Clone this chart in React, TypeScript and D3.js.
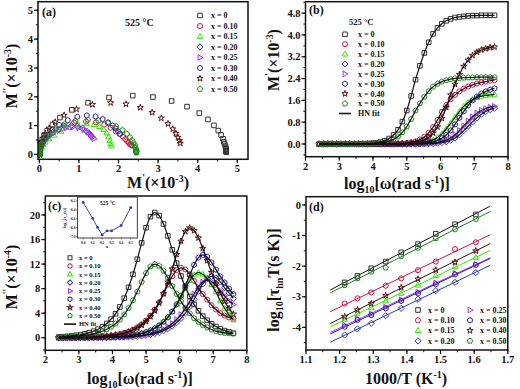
import React from 'react';
import * as d3 from 'd3';

// ---------- DATA ----------
const seriesLabels = ['x = 0', 'x = 0.10', 'x = 0.15', 'x = 0.20', 'x = 0.25', 'x = 0.30', 'x = 0.40', 'x = 0.50'];
const seriesColors = ['#333333', '#cc1148', '#33e600', '#2a3aa8', '#a033e8', '#2c1c9c', '#5a1414', '#1f8a1f'];
const seriesShapes = ['square', 'circle', 'triangle', 'diamond', 'triright', 'hexagon', 'star', 'pentagon'];

// log10(omega) grid of the measurement
const logW = [2.40, 2.53, 2.66, 2.79, 2.92, 3.05, 3.18, 3.31, 3.44, 3.57, 3.70, 3.83, 3.96, 4.09, 4.22, 4.35, 4.48, 4.61, 4.74, 4.87, 5.00, 5.13, 5.26, 5.39, 5.52, 5.65, 5.78, 5.91, 6.04, 6.17, 6.30, 6.43, 6.56, 6.69, 6.82, 6.95, 7.08, 7.21, 7.34, 7.47, 7.60];

// M' (x10^-3)
const mp_x0 = [0, 0, 0, 0, 0, 0, 0, 0, 0, 0.005, 0.009, 0.016, 0.026, 0.043, 0.073, 0.12, 0.20, 0.33, 0.52, 0.82, 1.23, 1.76, 2.36, 2.87, 3.34, 3.73, 4.04, 4.26, 4.41, 4.52, 4.59, 4.64, 4.66, 4.68, 4.70, 4.71, 4.71, 4.72, 4.72, 4.72, 4.72];
const mp_x10 = [0, 0, 0, 0, 0, 0, 0, 0, 0, 0, 0, 0, 0, 0, 0, 0, 0.005, 0.008, 0.013, 0.022, 0.037, 0.060, 0.100, 0.163, 0.262, 0.411, 0.616, 0.880, 1.18, 1.43, 1.64, 1.80, 1.93, 2.03, 2.11, 2.17, 2.22, 2.26, 2.29, 2.32, 2.34];
const mp_x15 = [0, 0, 0, 0, 0, 0, 0, 0, 0, 0, 0, 0, 0, 0, 0, 0, 0, 0, 0, 0, 0.008, 0.013, 0.02, 0.035, 0.058, 0.095, 0.15, 0.24, 0.37, 0.55, 0.76, 0.98, 1.19, 1.38, 1.52, 1.63, 1.70, 1.75, 1.78, 1.80, 1.82];
const mp_x20 = [0, 0, 0, 0, 0, 0, 0, 0, 0, 0, 0, 0, 0, 0, 0, 0, 0, 0, 0, 0, 0, 0, 0, 0.004, 0.007, 0.012, 0.02, 0.034, 0.055, 0.088, 0.14, 0.22, 0.34, 0.49, 0.65, 0.81, 0.96, 1.09, 1.19, 1.26, 1.31];
const mp_x25 = [0, 0, 0, 0, 0, 0, 0, 0, 0, 0, 0, 0, 0, 0, 0, 0, 0, 0, 0, 0, 0, 0, 0.004, 0.007, 0.012, 0.02, 0.034, 0.056, 0.09, 0.14, 0.22, 0.34, 0.50, 0.67, 0.84, 1.00, 1.13, 1.23, 1.30, 1.35, 1.38];
const mp_x30 = [0, 0, 0, 0, 0, 0, 0, 0, 0, 0, 0, 0, 0, 0, 0, 0, 0, 0, 0, 0, 0, 0.006, 0.01, 0.017, 0.03, 0.05, 0.08, 0.13, 0.21, 0.33, 0.50, 0.72, 0.96, 1.20, 1.42, 1.60, 1.74, 1.85, 1.93, 1.99, 2.04];
const mp_x40 = [0, 0, 0, 0, 0, 0, 0, 0, 0, 0, 0, 0, 0, 0, 0, 0, 0, 0, 0.007, 0.012, 0.020, 0.033, 0.056, 0.092, 0.153, 0.248, 0.40, 0.626, 0.94, 1.34, 1.80, 2.19, 2.55, 2.85, 3.08, 3.25, 3.37, 3.45, 3.50, 3.54, 3.56];
const mp_x50 = [0, 0, 0, 0, 0, 0, 0, 0, 0, 0.003, 0.005, 0.008, 0.013, 0.023, 0.038, 0.062, 0.104, 0.169, 0.272, 0.426, 0.639, 0.914, 1.225, 1.49, 1.73, 1.94, 2.10, 2.21, 2.29, 2.34, 2.38, 2.41, 2.42, 2.43, 2.44, 2.44, 2.45, 2.45, 2.45, 2.45, 2.45];

// M'' (x10^-4)
const mpp_x0 = [0.13, 0.17, 0.22, 0.29, 0.39, 0.49, 0.63, 0.82, 1.06, 1.39, 1.80, 2.33, 3.02, 3.90, 5.02, 6.45, 8.22, 10.34, 12.79, 15.46, 17.93, 19.73, 20.4, 19.91, 18.54, 16.59, 14.34, 12.14, 10.06, 8.26, 6.73, 5.43, 4.39, 3.53, 2.84, 2.26, 1.82, 1.45, 1.16, 0.94, 0.75];
const mpp_x10 = [0.02, 0.02, 0.03, 0.03, 0.05, 0.06, 0.08, 0.10, 0.13, 0.16, 0.22, 0.27, 0.35, 0.46, 0.59, 0.78, 1.00, 1.30, 1.69, 2.18, 2.80, 3.60, 4.59, 5.78, 7.15, 8.64, 10.02, 11.02, 11.4, 11.13, 10.36, 9.27, 8.01, 7.10, 6.20, 5.30, 4.60, 4.00, 3.60, 3.30, 3.10];
const mpp_x15 = [0.01, 0.01, 0.01, 0.01, 0.01, 0.02, 0.02, 0.03, 0.04, 0.05, 0.07, 0.09, 0.12, 0.15, 0.20, 0.25, 0.33, 0.42, 0.55, 0.72, 0.93, 1.21, 1.57, 2.02, 2.61, 3.35, 4.27, 5.37, 6.65, 8.03, 9.32, 10.25, 10.6, 10.35, 9.64, 8.62, 7.45, 6.0, 4.8, 3.7, 2.9];
const mpp_x20 = [0.01, 0.01, 0.01, 0.01, 0.01, 0.01, 0.01, 0.01, 0.02, 0.02, 0.03, 0.04, 0.05, 0.07, 0.09, 0.11, 0.14, 0.19, 0.24, 0.31, 0.40, 0.52, 0.68, 0.88, 1.14, 1.48, 1.91, 2.46, 3.16, 4.03, 5.07, 6.27, 7.58, 8.79, 9.67, 10.0, 9.76, 9.09, 8.13, 7.3, 6.4];
const mpp_x25 = [0.01, 0.01, 0.01, 0.01, 0.01, 0.01, 0.01, 0.02, 0.02, 0.03, 0.04, 0.05, 0.06, 0.08, 0.10, 0.13, 0.18, 0.23, 0.29, 0.38, 0.49, 0.64, 0.83, 1.07, 1.39, 1.80, 2.31, 2.97, 3.79, 4.77, 5.89, 7.13, 8.26, 9.09, 9.4, 9.17, 8.54, 7.64, 6.80, 6.0, 5.4];
const mpp_x30 = [0.01, 0.01, 0.01, 0.01, 0.02, 0.02, 0.02, 0.03, 0.04, 0.05, 0.07, 0.09, 0.11, 0.15, 0.19, 0.26, 0.32, 0.42, 0.54, 0.70, 0.92, 1.19, 1.54, 2.00, 2.58, 3.32, 4.27, 5.44, 6.84, 8.46, 10.23, 11.87, 13.05, 13.5, 13.18, 12.27, 11.1, 10.0, 9.0, 8.0, 7.1];
const mpp_x40 = [0.02, 0.02, 0.03, 0.03, 0.04, 0.05, 0.07, 0.09, 0.12, 0.15, 0.20, 0.25, 0.34, 0.43, 0.55, 0.72, 0.93, 1.22, 1.58, 2.04, 2.65, 3.42, 4.40, 5.66, 7.21, 9.08, 11.22, 13.57, 15.73, 17.31, 17.9, 17.47, 16.27, 14.55, 12.58, 10.65, 8.82, 7.25, 5.91, 4.76, 3.85];
const mpp_x50 = [0.08, 0.10, 0.13, 0.17, 0.23, 0.29, 0.37, 0.48, 0.62, 0.82, 1.06, 1.37, 1.78, 2.29, 2.95, 3.79, 4.84, 6.08, 7.52, 9.10, 10.55, 11.60, 12.0, 11.71, 10.91, 9.76, 8.44, 7.14, 5.92, 4.86, 3.96, 3.19, 2.58, 2.08, 1.67, 1.33, 1.07, 0.90, 0.78, 0.70, 0.65];

// Arrhenius data: 1000/T and log10(tau_hn T)
const invT = [1.215, 1.253, 1.294, 1.337, 1.383, 1.433, 1.486, 1.543, 1.605];
const lt_x0 = [-2.53, -2.32, -2.07, -1.85, -1.55, -1.28, -0.94, -0.63, -0.31];
const lt_x10 = [-3.22, -3.05, -2.86, -2.64, -2.40, -2.13, -1.85, -1.44, -1.22];
const lt_x15 = [-3.74, -3.54, -3.36, -3.14, -2.89, -2.62, -2.31, -2.02, -1.72];
const lt_x20 = [-4.25, -4.05, -3.87, -3.62, -3.38, -3.08, -2.80, -2.53, -2.21];
const lt_x25 = [-3.93, -3.72, -3.56, -3.34, -3.10, -2.85, -2.55, -2.24, -1.94];
const lt_x30 = [-3.98, -3.76, -3.60, -3.38, -3.14, -2.89, -2.59, -2.27, -1.96];
const lt_x40 = [-3.65, -3.43, -3.22, -2.96, -2.70, -2.42, -2.13, -1.87, -1.50];
const lt_x50 = [-2.62, -2.40, -2.18, -2.05, -1.67, -1.40, -1.09, -0.80, -0.46];
const fitRange = [1.172, 1.648];

// inset: log10(tau_hn) vs x at 525 C
const insetX = [0, 0.1, 0.15, 0.2, 0.25, 0.3, 0.4, 0.5];
const insetY = [-6.23, -6.59, -6.79, -6.96, -6.87, -6.87, -6.75, -6.35];

// ticks
const ticksA = [0, 1, 2, 3, 4, 5];
const ticksBx = [2, 3, 4, 5, 6, 7, 8];
const ticksBy = [0, 0.8, 1.6, 2.4, 3.2, 4.0, 4.8];
const ticksCy = [0, 4, 8, 12, 16, 20];
const ticksDx = [1.1, 1.2, 1.3, 1.4, 1.5, 1.6, 1.7];
const ticksDy = [0, -1, -2, -3, -4];
const insetTicksX = [0, 0.1, 0.2, 0.3, 0.4, 0.5];
const insetTicksY = [-6.2, -6.4, -6.6, -6.8, -7.0];

const MP = [mp_x0, mp_x10, mp_x15, mp_x20, mp_x25, mp_x30, mp_x40, mp_x50];
const MPP = [mpp_x0, mpp_x10, mpp_x15, mpp_x20, mpp_x25, mpp_x30, mpp_x40, mpp_x50];
const LT = [lt_x0, lt_x10, lt_x15, lt_x20, lt_x25, lt_x30, lt_x40, lt_x50];
const fitColors = ['#111111', '#cc1148', '#33e600', '#2a3aa8', '#a033e8', '#2c1c9c', '#2a1010', '#1f7a1f'];

// ---------- HELPERS ----------
const FONT = "'Liberation Serif', 'Times New Roman', serif";

function poly(n: number, r: number): string {
  const pts: string[] = [];
  for (let k = 0; k < n; k++) {
    const a = -Math.PI / 2 + (k * 2 * Math.PI) / n;
    pts.push(`${(r * Math.cos(a)).toFixed(2)},${(r * Math.sin(a)).toFixed(2)}`);
  }
  return 'M' + pts.join('L') + 'Z';
}

const SHAPES: Record<string, string> = {
  square: 'M-2.3,-2.3H2.3V2.3H-2.3Z',
  circle: d3.symbol(d3.symbolCircle, 20)() as string,
  triangle: 'M0,-3L2.8,1.9L-2.8,1.9Z',
  diamond: 'M0,-3.1L3.1,0L0,3.1L-3.1,0Z',
  triright: 'M3,0L-1.9,-2.8L-1.9,2.8Z',
  hexagon: poly(6, 2.7),
  star: d3.symbol(d3.symbolStar, 12)() as string,
  pentagon: poly(5, 2.8),
};

function Mark({ shape, x, y, color, s = 1 }: { shape: string; x: number; y: number; color: string; s?: number }) {
  return (
    <path
      d={SHAPES[shape]}
      transform={`translate(${x.toFixed(2)},${y.toFixed(2)}) scale(${s})`}
      fill="none"
      stroke={color}
      strokeWidth={1 / s}
    />
  );
}

type Seg = { t: string; sh?: number };
function Rich({ segs, size, x, y, rotate, anchor = 'middle' }: { segs: Seg[]; size: number; x: number; y: number; rotate?: boolean; anchor?: string }) {
  let cur = 0;
  const spans = segs.map((s, i) => {
    const sh = s.sh || 0;
    const dy = sh - cur;
    cur = sh;
    const fs = sh !== 0 ? size * 0.62 : size;
    return (
      <tspan key={i} dy={dy} fontSize={fs}>
        {s.t}
      </tspan>
    );
  });
  return (
    <text
      transform={rotate ? `translate(${x},${y}) rotate(-90)` : `translate(${x},${y})`}
      textAnchor={anchor as any}
      fontFamily={FONT}
      fontWeight="bold"
      fontSize={size}
      fill="#111"
    >
      {spans}
    </text>
  );
}

function Frame({ x0, x1, y0, y1 }: { x0: number; x1: number; y0: number; y1: number }) {
  return <rect x={x0} y={y0} width={x1 - x0} height={y1 - y0} fill="none" stroke="#111" strokeWidth={1.5} />;
}

function XTicks({ sx, major, minorStep, y, fmt, size = 10.5 }: any) {
  const [d0, d1] = sx.domain();
  const minors: number[] = [];
  if (minorStep) {
    const start = Math.ceil(d0 / minorStep - 1e-6);
    const end = Math.floor(d1 / minorStep + 1e-6);
    for (let k = start; k <= end; k++) minors.push(k * minorStep);
  }
  return (
    <g>
      {minors.map((v, i) => (
        <line key={'m' + i} x1={sx(v)} x2={sx(v)} y1={y} y2={y + 2.2} stroke="#111" strokeWidth={1} />
      ))}
      {major.map((v: number, i: number) => (
        <g key={i}>
          <line x1={sx(v)} x2={sx(v)} y1={y} y2={y + 4} stroke="#111" strokeWidth={1.2} />
          <text x={sx(v)} y={y + 13} textAnchor="middle" fontFamily={FONT} fontWeight="bold" fontSize={size} fill="#111">
            {fmt(v)}
          </text>
        </g>
      ))}
    </g>
  );
}

function YTicks({ sy, major, minorStep, x, fmt, size = 10.5 }: any) {
  const [d0, d1] = sy.domain();
  const minors: number[] = [];
  if (minorStep) {
    const start = Math.ceil(d0 / minorStep - 1e-6);
    const end = Math.floor(d1 / minorStep + 1e-6);
    for (let k = start; k <= end; k++) minors.push(k * minorStep);
  }
  return (
    <g>
      {minors.map((v, i) => (
        <line key={'m' + i} x1={x} x2={x - 2.2} y1={sy(v)} y2={sy(v)} stroke="#111" strokeWidth={1} />
      ))}
      {major.map((v: number, i: number) => (
        <g key={i}>
          <line x1={x} x2={x - 4} y1={sy(v)} y2={sy(v)} stroke="#111" strokeWidth={1.2} />
          <text x={x - 5} y={sy(v) + 3.6} textAnchor="end" fontFamily={FONT} fontWeight="bold" fontSize={size} fill="#111">
            {fmt(v)}
          </text>
        </g>
      ))}
    </g>
  );
}

function Legend({ x, y, dy, s = 1, size = 8, gap = 12, items, fit }: any) {
  return (
    <g>
      {items.map((k: number, i: number) => (
        <g key={k}>
          <Mark shape={seriesShapes[k]} x={x} y={y + i * dy} color={seriesColors[k]} s={s} />
          <text x={x + gap} y={y + i * dy + size * 0.35} fontFamily={FONT} fontWeight="bold" fontSize={size} fill="#111">
            {seriesLabels[k]}
          </text>
        </g>
      ))}
      {fit && (
        <g>
          <line x1={x - 6} x2={x + 6} y1={y + items.length * dy} y2={y + items.length * dy} stroke="#111" strokeWidth={1.6} />
          <text x={x + gap} y={y + items.length * dy + size * 0.35} fontFamily={FONT} fontWeight="bold" fontSize={size} fill="#111">
            HN fit
          </text>
        </g>
      )}
    </g>
  );
}

const order = [0, 1, 2, 3, 4, 5, 6, 7];

// ---------- APP ----------
export default function App() {
  // Panel (a)
  const ax = d3.scaleLinear().domain([-0.033, 5.27]).range([38, 248]);
  const ay = d3.scaleLinear().domain([-0.17, 5.3]).range([159.3, 1.7]);
  // Panel (b)
  const bx = d3.scaleLinear().domain([2, 8]).range([305.5, 508]);
  const by = d3.scaleLinear().domain([-0.466, 5.22]).range([156.7, 1.7]);
  // Panel (c)
  const cx = d3.scaleLinear().domain([2, 8]).range([45.3, 246.8]);
  const cy = d3.scaleLinear().domain([-2.05, 23.1]).range([350.3, 196]);
  // Panel (d)
  const dx = d3.scaleLinear().domain([1.1, 1.7]).range([306, 507.8]);
  const dy = d3.scaleLinear().domain([-4.74, 0.27]).range([350, 196.7]);
  // Inset
  const ix = d3.scaleLinear().domain([-0.06, 0.57]).range([77.5, 137.3]);
  const iy = d3.scaleLinear().domain([-7.03, -6.11]).range([238, 197]);

  const lineB = (k: number) =>
    d3.line<number>().x((_, i) => bx(logW[i])).y((v) => by(v)).curve(d3.curveMonotoneX)(MP[k]) as string;
  const lineC = (k: number) =>
    d3.line<number>().x((_, i) => cx(logW[i])).y((v) => cy(v)).curve(d3.curveMonotoneX)(MPP[k]) as string;

  const fits = LT.map((ys) => {
    const n = invT.length;
    const mx = d3.mean(invT) as number;
    const my = d3.mean(ys) as number;
    let sxy = 0, sxx = 0;
    for (let i = 0; i < n; i++) {
      sxy += (invT[i] - mx) * (ys[i] - my);
      sxx += (invT[i] - mx) * (invT[i] - mx);
    }
    const b = sxy / sxx;
    const a = my - b * mx;
    return fitRange.map((x) => [x, a + b * x]);
  });

  const insetLine = d3.line<number>().x((_, i) => ix(insetX[i])).y((v) => iy(v))(insetY) as string;

  return (
    <svg width={520} height={389} style={{ position: 'absolute', left: 0, top: 0, background: '#fff' }}>
      <defs>
        <clipPath id="ca"><rect x={38} y={1.7} width={210} height={157.6} /></clipPath>
        <clipPath id="cb"><rect x={305.5} y={1.7} width={202.5} height={155} /></clipPath>
        <clipPath id="cc"><rect x={45.3} y={196} width={201.5} height={154.3} /></clipPath>
        <clipPath id="cd"><rect x={306} y={196.7} width={201.8} height={153.3} /></clipPath>
      </defs>
      <rect x={0} y={0} width={520} height={389} fill="#fff" />

      {/* ---------------- Panel (a) ---------------- */}
      <g clipPath="url(#ca)">
        {order.map((k) =>
          MP[k].map((v, i) => (
            <Mark key={k + '-' + i} shape={seriesShapes[k]} x={ax(v)} y={ay(MPP[k][i] / 10)} color={seriesColors[k]} />
          ))
        )}
      </g>
      <Frame x0={38} x1={248} y0={1.7} y1={159.3} />
      <XTicks sx={ax} major={ticksA} minorStep={0.5} y={159.3} fmt={(v: number) => String(v)} />
      <YTicks sy={ay} major={ticksA} minorStep={0.5} x={38} fmt={(v: number) => String(v)} />
      <text x={42} y={16} fontFamily={FONT} fontWeight="bold" fontSize={12} fill="#111">(a)</text>
      <text x={125} y={26} fontFamily={FONT} fontWeight="bold" fontSize={10} fill="#111">525 °C</text>
      <Legend x={200} y={15.5} dy={10.5} size={8} gap={11} items={order} />
      <Rich x={158} y={188} size={16} segs={[{ t: 'M' }, { t: "'", sh: -7 }, { t: '(×10' }, { t: '-3', sh: -6 }, { t: ')' }]} />
      <Rich x={17} y={76} rotate size={16} segs={[{ t: 'M' }, { t: "''", sh: -7 }, { t: '(×10' }, { t: '-3', sh: -6 }, { t: ')' }]} />

      {/* ---------------- Panel (b) ---------------- */}
      <g clipPath="url(#cb)">
        {order.map((k) =>
          MP[k].map((v, i) => (
            <Mark key={k + '-' + i} shape={seriesShapes[k]} x={bx(logW[i])} y={by(v)} color={seriesColors[k]} />
          ))
        )}
        {order.map((k) => (
          <path key={'l' + k} d={lineB(k)} fill="none" stroke="#111" strokeWidth={1.2} />
        ))}
      </g>
      <Frame x0={305.5} x1={508} y0={1.7} y1={156.7} />
      <XTicks sx={bx} major={ticksBx} minorStep={0.5} y={156.7} fmt={(v: number) => String(v)} />
      <YTicks sy={by} major={ticksBy} minorStep={0.4} x={305.5} fmt={(v: number) => v.toFixed(1)} />
      <text x={309} y={14} fontFamily={FONT} fontWeight="bold" fontSize={12} fill="#111">(b)</text>
      <text x={349} y={25} fontFamily={FONT} fontWeight="bold" fontSize={8.5} fill="#111">525 °C</text>
      <Legend x={345} y={34.3} dy={9.9} size={8} gap={13} items={order} fit />
      <Rich x={397} y={189} size={16} segs={[{ t: 'log' }, { t: '10', sh: 4 }, { t: '[ω(rad s' }, { t: '-1', sh: -6 }, { t: ')]' }]} />
      <Rich x={279} y={60} rotate size={16} segs={[{ t: 'M' }, { t: "'", sh: -7 }, { t: '(×10' }, { t: '-3', sh: -6 }, { t: ')' }]} />

      {/* ---------------- Panel (c) ---------------- */}
      <g clipPath="url(#cc)">
        {order.map((k) =>
          MPP[k].map((v, i) => (
            <Mark key={k + '-' + i} shape={seriesShapes[k]} x={cx(logW[i])} y={cy(v)} color={seriesColors[k]} />
          ))
        )}
        {order.map((k) => (
          <path key={'l' + k} d={lineC(k)} fill="none" stroke="#111" strokeWidth={1.2} />
        ))}
      </g>
      <Frame x0={45.3} x1={246.8} y0={196} y1={350.3} />
      <XTicks sx={cx} major={ticksBx} minorStep={0.5} y={350.3} fmt={(v: number) => String(v)} />
      <YTicks sy={cy} major={ticksCy} minorStep={2} x={45.3} fmt={(v: number) => String(v)} />
      <text x={48} y={210} fontFamily={FONT} fontWeight="bold" fontSize={12} fill="#111">(c)</text>
      <Legend x={70} y={257.7} dy={8.3} s={0.85} size={6.5} gap={9} items={order} fit />
      <Rich x={140} y={384} size={16} segs={[{ t: 'log' }, { t: '10', sh: 4 }, { t: '[ω(rad s' }, { t: '-1', sh: -6 }, { t: ')]' }]} />
      <Rich x={17} y={277} rotate size={16} segs={[{ t: 'M' }, { t: "''", sh: -7 }, { t: '(×10' }, { t: '-4', sh: -6 }, { t: ')' }]} />

      {/* inset */}
      <rect x={77.5} y={197} width={59.8} height={41} fill="#fff" stroke="#111" strokeWidth={0.8} />
      <path d={insetLine} fill="none" stroke="#2a3aa8" strokeWidth={0.9} />
      {insetY.map((v, i) => (
        <circle key={i} cx={ix(insetX[i])} cy={iy(v)} r={1.4} fill="#2a3aa8" />
      ))}
      {insetTicksX.map((v) => (
        <g key={'ix' + v}>
          <line x1={ix(v)} x2={ix(v)} y1={238} y2={239.5} stroke="#111" strokeWidth={0.5} />
          <text x={ix(v)} y={243.5} textAnchor="middle" fontFamily={FONT} fontWeight="bold" fontSize={3.6} fill="#111">{v.toFixed(1)}</text>
        </g>
      ))}
      {insetTicksY.map((v) => (
        <g key={'iy' + v}>
          <line x1={77.5} x2={76} y1={iy(v)} y2={iy(v)} stroke="#111" strokeWidth={0.5} />
          <text x={75.5} y={iy(v) + 1.3} textAnchor="end" fontFamily={FONT} fontWeight="bold" fontSize={3.6} fill="#111">{v.toFixed(1)}</text>
        </g>
      ))}
      <text x={107} y={247.5} textAnchor="middle" fontFamily={FONT} fontWeight="bold" fontSize={5} fill="#111">x</text>
      <Rich x={66} y={218} rotate size={4.2} segs={[{ t: 'log' }, { t: '10', sh: 1 }, { t: '[τ' }, { t: 'hn', sh: 1 }, { t: '(s)]' }]} />
      <text x={100} y={205} fontFamily={FONT} fontWeight="bold" fontSize={5.5} fill="#111">525 °C</text>

      {/* ---------------- Panel (d) ---------------- */}
      <g clipPath="url(#cd)">
        {order.map((k) => (
          <line
            key={'f' + k}
            x1={dx(fits[k][0][0])}
            y1={dy(fits[k][0][1])}
            x2={dx(fits[k][1][0])}
            y2={dy(fits[k][1][1])}
            stroke={fitColors[k]}
            strokeWidth={1}
          />
        ))}
        {order.map((k) =>
          LT[k].map((v, i) => (
            <Mark key={k + '-' + i} shape={seriesShapes[k]} x={dx(invT[i])} y={dy(v)} color={seriesColors[k]} />
          ))
        )}
      </g>
      <Frame x0={306} x1={507.8} y0={196.7} y1={350} />
      <XTicks sx={dx} major={ticksDx} minorStep={0.05} y={350} fmt={(v: number) => v.toFixed(1)} />
      <YTicks sy={dy} major={ticksDy} minorStep={0.5} x={306} fmt={(v: number) => (v === 0 ? '0' : '-' + Math.abs(v))} />
      <text x={309} y={211} fontFamily={FONT} fontWeight="bold" fontSize={12} fill="#111">(d)</text>
      <Legend x={418} y={310} dy={10.3} size={8} gap={10} items={[0, 1, 2, 3]} />
      <Legend x={470} y={310} dy={10.3} size={8} gap={10} items={[4, 5, 6, 7]} />
      <Rich x={406} y={384} size={16} segs={[{ t: '1000/T (K' }, { t: '-1', sh: -6 }, { t: ')' }]} />
      <Rich x={279} y={280} rotate size={16} segs={[{ t: 'log' }, { t: '10', sh: 4 }, { t: '[τ' }, { t: 'hn', sh: 4 }, { t: 'T(s K)]' }]} />
    </svg>
  );
}
